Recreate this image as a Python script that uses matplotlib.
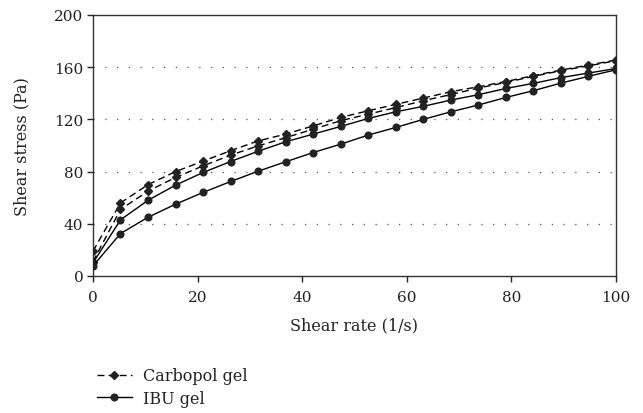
import numpy as np
import matplotlib.pyplot as plt

# shear rate (1/s)
shear_rate = [0, 5.26, 10.53, 15.79, 21.05, 26.32, 31.58, 36.84, 42.11, 47.37,
              52.63, 57.89, 63.16, 68.42, 73.68, 78.95, 84.21, 89.47, 94.74, 100]

# shear stress (Pa)
carbopol_1 = [19, 56, 70, 80, 88, 96, 103.5, 108.7, 115, 121.5,
              126.6, 131.5, 136.3, 141.2, 145, 149, 153.5, 157.8, 161.6, 165.5]
carbopol_2 = [11, 51, 65, 75.5, 84.4, 92.6, 99.7, 106, 112.5, 119,
              124, 129, 134.3, 139, 144, 148.3, 153, 157.3, 161, 165]
ibu_1 = [10, 43, 58, 69.6, 79.3, 87.7, 95.6, 102.8, 108.7, 114.6,
         120.7, 125.8, 130, 134.8, 138.9, 143.7, 147.6, 152, 155.5, 159]
ibu_2 = [7.7, 32.5, 45, 55, 64, 72.4, 80.3, 87.5, 94.6, 101,
         108, 113.8, 120, 125.8, 131, 136.8, 142, 147.8, 153, 158]

plt.rcParams['font.family'] = ['DejaVu Serif']

fig = plt.figure(figsize=(6.43, 4.14), dpi=100)
ax = fig.add_axes([0.1446, 0.331, 0.8134, 0.6304])

dash = (0, (5, 3))
mk = dict(mfc='#222222', mec='#222222')
ax.plot(shear_rate, carbopol_1, color='black', lw=1, linestyle=dash,
        marker='D', ms=3.8, label='Carbopol gel', zorder=3, **mk)
ax.plot(shear_rate, carbopol_2, color='black', lw=1, linestyle=dash,
        marker='D', ms=3.8, zorder=3, **mk)
ax.plot(shear_rate, ibu_1, color='black', lw=1, linestyle='-',
        marker='o', ms=4.8, label='IBU gel', zorder=3, **mk)
ax.plot(shear_rate, ibu_2, color='black', lw=1, linestyle='-',
        marker='o', ms=4.8, zorder=3, **mk)

ax.set_xlim(0, 100)
ax.set_ylim(0, 200)
ax.set_xticks([0, 20, 40, 60, 80, 100])
ax.set_yticks([0, 40, 80, 120, 160, 200])
for yv in [40, 80, 120, 160]:
    ax.axhline(yv, color='#555555', lw=0.9, linestyle=(0, (1, 8.4)), zorder=1)

ax.tick_params(direction='out', length=4, width=1, labelsize=11, colors='#222222')
ax.tick_params(axis='x', pad=6)
ax.tick_params(axis='y', pad=3)
for s in ax.spines.values():
    s.set_color('#333333')
    s.set_linewidth(1)

ax.set_xlabel('Shear rate (1/s)', fontsize=11.5, labelpad=9, color='#222222')
ax.set_ylabel('Shear stress (Pa)', fontsize=11.5, labelpad=17, color='#222222')

fig.legend(loc='upper left', bbox_to_anchor=(0.138, 0.13), frameon=False,
           fontsize=11.5, handlelength=2.2, handletextpad=0.7, labelspacing=0.35,
           borderpad=0, labelcolor='#222222')

fig.savefig('out.png', dpi=100)
